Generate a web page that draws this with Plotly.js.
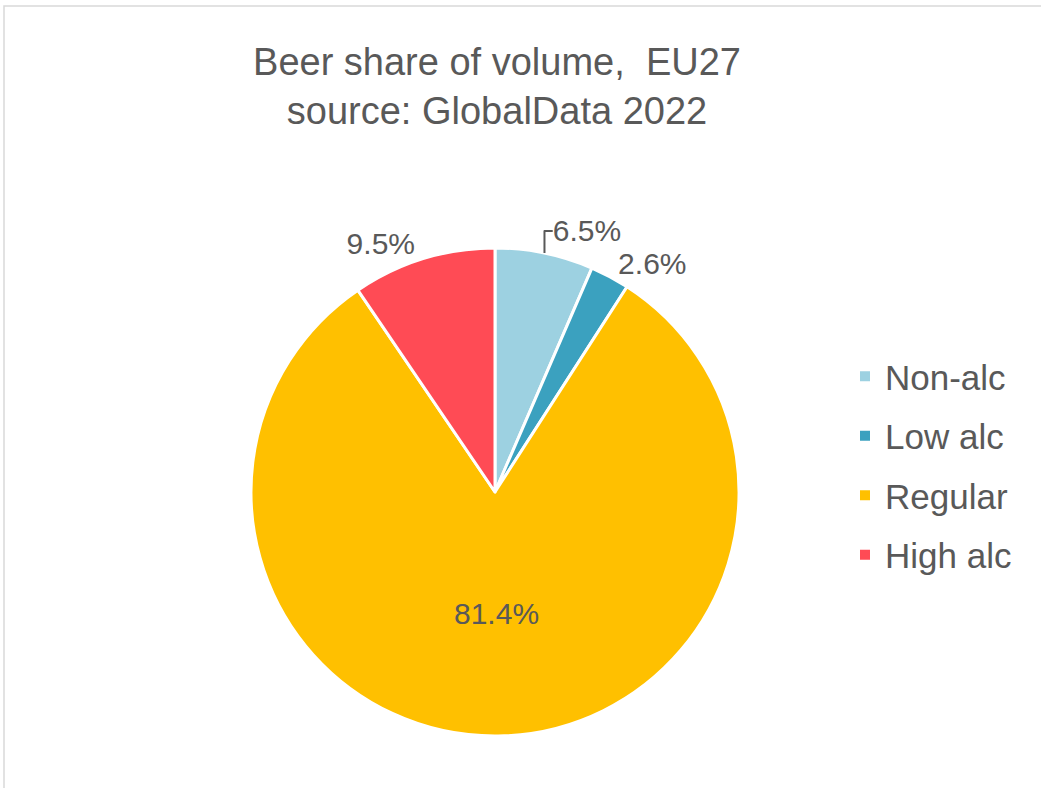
<!DOCTYPE html>
<html>
<head>
<meta charset="utf-8">
<script src="https://cdn.plot.ly/plotly-3.0.1.min.js"></script>
<style>html,body{margin:0;padding:0;background:#fff;}#chart{width:1041px;height:788px;}</style>
</head>
<body>
<div id="chart"></div>
<script>
var categories = ['Non-alc', 'Low alc', 'Regular', 'High alc'];
var shares = [6.5, 2.6, 81.4, 9.5];
var sliceColors = ['#9DD1E1', '#3BA1BF', '#FFC000', '#FF4B55'];
var labelPositions = ['outside', 'outside', 'inside', 'outside'];

var W = 1041, H = 788;
var FONT = 'Liberation Sans, Arial, sans-serif';

var pie = {
  type: 'pie',
  labels: categories,
  values: shares,
  sort: false,
  direction: 'clockwise',
  rotation: 0,
  showlegend: false,
  marker: {colors: sliceColors, line: {color: '#ffffff', width: 3}},
  texttemplate: '%{value:.1f}%',
  textposition: labelPositions,
  textfont: {family: FONT, size: 30, color: '#595959'},
  insidetextorientation: 'horizontal',
  outsidetextfont: {family: FONT, size: 30, color: '#595959'},
  domain: {x: [251 / W, 739 / W], y: [1 - 736 / H, 1 - 248 / H]},
  hoverinfo: 'label+percent'
};

// legend entries built from the same categories / colours
var legendTraces = categories.map(function (c, i) {
  return {
    type: 'scatter', mode: 'markers',
    x: [null], y: [null],
    name: c,
    legendgroup: 'g' + i,
    marker: {symbol: 'square', size: 10, color: sliceColors[i]},
    hoverinfo: 'skip'
  };
});

var layout = {
  width: W, height: H,
  margin: {l: 0, r: 0, t: 0, b: 0},
  paper_bgcolor: '#ffffff',
  plot_bgcolor: 'rgba(0,0,0,0)',
  font: {family: FONT, color: '#595959'},
  xaxis: {visible: false, domain: [0, 0.01]},
  yaxis: {visible: false, domain: [0, 0.01]},
  title: {
    text: 'Beer share of volume,\u00A0 EU27<br>source: GlobalData 2022',
    x: 497 / W, xanchor: 'center',
    y: 1 - 75 / H, yanchor: 'top',
    font: {family: FONT, size: 38, color: '#595959'}
  },
  showlegend: true,
  legend: {
    x: 845 / W, xanchor: 'left',
    y: 1 - 347 / H, yanchor: 'top',
    traceorder: 'grouped',
    tracegroupgap: 11,
    font: {family: FONT, size: 35, color: '#595959'},
    bgcolor: 'rgba(0,0,0,0)'
  },
  shapes: [{
    type: 'rect', xref: 'paper', yref: 'paper',
    x0: 4 / W, x1: 1.01, y0: -0.01, y1: 1 - 6 / H,
    line: {color: '#d9d9d9', width: 1.5}
  }]
};

Plotly.newPlot('chart', [pie].concat(legendTraces), layout, {displayModeBar: false, staticPlot: true});
</script>
</body>
</html>
